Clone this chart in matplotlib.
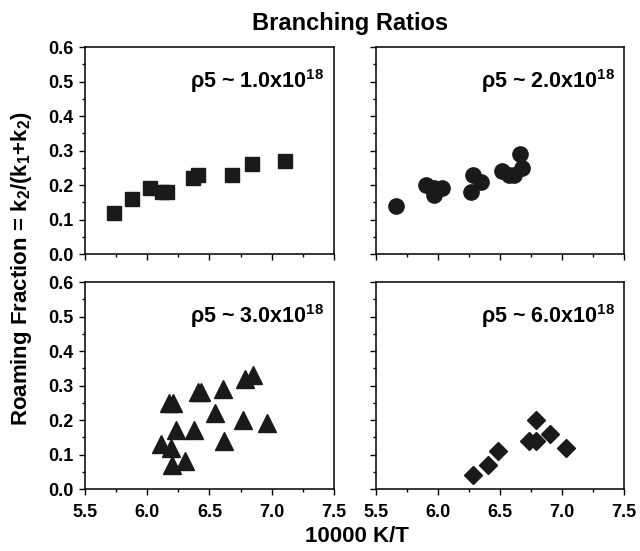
import numpy as np
import matplotlib
matplotlib.use("Agg")
from matplotlib import pyplot as plt
from matplotlib.ticker import MultipleLocator

plt.rcParams["font.family"] = ["Liberation Sans", "DejaVu Sans"]
plt.rcParams["font.weight"] = "bold"
plt.rcParams["mathtext.fontset"] = "custom"
plt.rcParams["mathtext.rm"] = "Liberation Sans:bold"
plt.rcParams["mathtext.bf"] = "Liberation Sans:bold"

# 10000 K/T and roaming fraction for each density
x_1e18 = [5.73, 5.875, 6.025, 6.115, 6.16, 6.37, 6.405, 6.68, 6.84, 7.105]
y_1e18 = [0.12, 0.16, 0.19, 0.18, 0.18, 0.22, 0.23, 0.23, 0.26, 0.27]

x_2e18 = [5.663, 5.905, 5.965, 5.97, 6.03, 6.27, 6.28, 6.35, 6.52, 6.57, 6.61, 6.66, 6.68]
y_2e18 = [0.14, 0.20, 0.17, 0.19, 0.19, 0.18, 0.23, 0.21, 0.24, 0.23, 0.23, 0.29, 0.25]

x_3e18 = [6.175, 6.21, 6.41, 6.435, 6.61, 6.785, 6.85, 6.545, 6.77, 6.96,
          6.62, 6.23, 6.375, 6.11, 6.19, 6.195, 6.30]
y_3e18 = [0.25, 0.25, 0.28, 0.28, 0.29, 0.32, 0.33, 0.22, 0.20, 0.19,
          0.14, 0.17, 0.17, 0.13, 0.12, 0.07, 0.08]

x_6e18 = [6.28, 6.40, 6.48, 6.735, 6.79, 6.79, 6.905, 7.035]
y_6e18 = [0.04, 0.07, 0.11, 0.14, 0.14, 0.20, 0.16, 0.12]

labels = ["1.0", "2.0", "3.0", "6.0"]
markers = ["s", "o", "^", "D"]
sizes = [10, 11, 13, 9.5]

fig = plt.figure(figsize=(6.40, 5.51), dpi=100)
positions = [
    [0.1328, 0.539, 0.389, 0.3757],
    [0.5875, 0.539, 0.3875, 0.3757],
    [0.1328, 0.1125, 0.389, 0.3757],
    [0.5875, 0.1125, 0.3875, 0.3757],
]
data = [(x_1e18, y_1e18), (x_2e18, y_2e18), (x_3e18, y_3e18), (x_6e18, y_6e18)]

for i, (xs, ys) in enumerate(data):
    ax = fig.add_axes(positions[i])
    ax.plot(xs, ys, linestyle="none", marker=markers[i], markersize=sizes[i],
            color="#1a1a1a", markeredgecolor="#1a1a1a")
    ax.set_xlim(5.5, 7.5)
    ax.set_ylim(0, 0.6)
    ax.xaxis.set_major_locator(MultipleLocator(0.5))
    ax.xaxis.set_minor_locator(MultipleLocator(0.25))
    ax.yaxis.set_major_locator(MultipleLocator(0.1))
    ax.yaxis.set_minor_locator(MultipleLocator(0.05))
    ax.tick_params(which="major", direction="out", length=4, width=1, labelsize=13)
    ax.tick_params(axis="x", which="major", pad=7)
    ax.tick_params(axis="y", which="major", pad=4)
    ax.tick_params(which="minor", direction="out", length=2.5, width=1)
    for s in ax.spines.values():
        s.set_linewidth(1.1)
    if i in (1, 3):
        ax.set_yticklabels([])
    if i in (0, 1):
        ax.set_xticklabels([])
    ax.text(0.962, 0.835, r"ρ5 ~ " + labels[i] + r"x10$^{\mathbf{18}}$",
            transform=ax.transAxes, ha="right", va="center", fontsize=15.5,
            fontweight="bold")

fig.text(0.547, 0.958, "Branching Ratios", ha="center", va="center",
         fontsize=17, fontweight="bold")
fig.text(0.558, 0.027, "10000 K/T", ha="center", va="center",
         fontsize=16, fontweight="bold")
fig.text(0.033, 0.513, r"Roaming Fraction = k$_\mathbf{2}$/(k$_\mathbf{1}$+k$_\mathbf{2}$)",
         rotation=90, ha="center", va="center", fontsize=16, fontweight="bold")

fig.savefig("out.png", dpi=100)
